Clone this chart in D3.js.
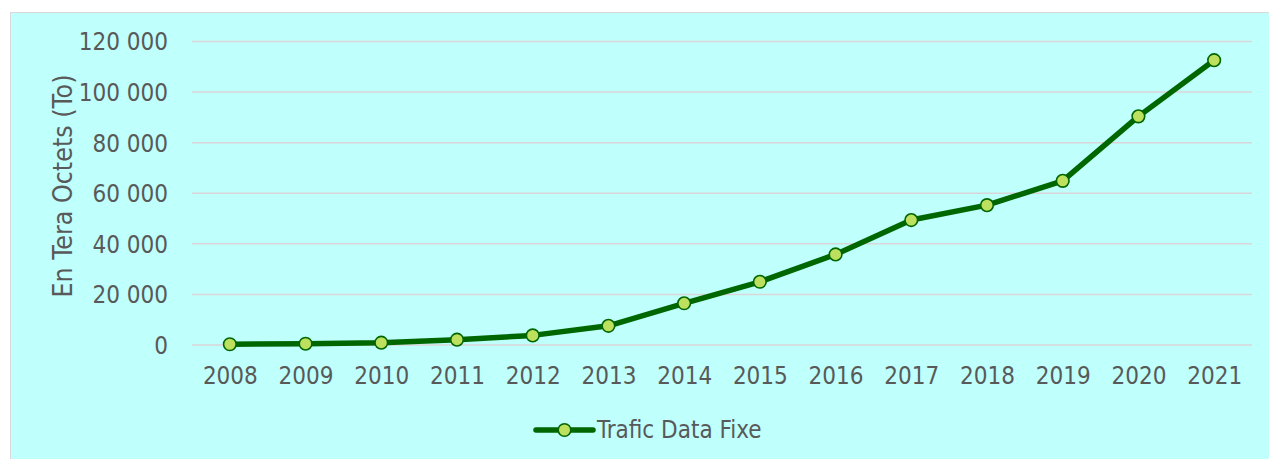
<!DOCTYPE html>
<html>
<head>
<meta charset="utf-8">
<script src="https://cdn.jsdelivr.net/npm/d3@7"></script>
<style>
  body { margin: 0; background: #fff; }
  svg text { font-family: "DejaVu Sans Condensed", "DejaVu Sans", sans-serif; font-stretch: condensed; fill: #595959; }
</style>
</head>
<body>
<svg id="chart"></svg>
<script>
// data
var years = ['2008', '2009', '2010', '2011', '2012', '2013', '2014', '2015',
  '2016', '2017', '2018', '2019', '2020', '2021'];
var trafic = [300, 500, 900, 2100, 3800, 7600, 16500, 25000,
  35800, 49400, 55300, 64900, 90400, 112600];
var yTicks = [0, 20000, 40000, 60000, 80000, 100000, 120000];
var seriesName = 'Trafic Data Fixe';

var width = 1269;
var height = 459;
var margin = { top: 41.5, right: 17, bottom: 114, left: 192 };

var svg = d3.select('#chart')
  .attr('width', width)
  .attr('height', height);

// chart area
svg.append('rect')
  .attr('x', 10.5).attr('y', 12.5)
  .attr('width', width).attr('height', height)
  .attr('fill', '#bffffc')
  .attr('stroke', '#d9d9d9')
  .attr('stroke-width', 1);

var x = d3.scalePoint()
  .domain(years)
  .range([margin.left, width - margin.right])
  .padding(0.5);

var y = d3.scaleLinear()
  .domain([0, 120000])
  .range([height - margin.bottom, margin.top]);

// space as thousands separator
var fr = d3.formatLocale({ decimal: ',', thousands: '\u00a0', grouping: [3], currency: ['', ' €'] });
var fmt = fr.format(',d');

// gridlines
svg.append('g')
  .selectAll('line')
  .data(yTicks)
  .enter()
    .append('line')
      .attr('x1', margin.left)
      .attr('x2', width - margin.right)
      .attr('y1', function (d) { return y(d); })
      .attr('y2', function (d) { return y(d); })
      .attr('stroke', '#dad5d7')
      .attr('stroke-width', 1.5);

// y axis labels
var yAxis = d3.axisLeft(y).tickValues(yTicks).tickFormat(fmt).tickSize(0).tickPadding(24);
var gy = svg.append('g')
  .attr('transform', 'translate(' + margin.left + ',0)')
  .call(yAxis);
gy.select('.domain').remove();
gy.selectAll('text')
  .attr('font-size', 24)
  .attr('dy', '0.35em')
  .style('font-family', null);

// x axis labels
var xAxis = d3.axisBottom(x).tickSize(0).tickPadding(22);
var gx = svg.append('g')
  .attr('transform', 'translate(0,' + y(0) + ')')
  .call(xAxis);
gx.select('.domain').remove();
gx.selectAll('text')
  .attr('font-size', 24)
  .style('font-family', null);

// axis title
svg.append('text')
  .attr('transform', 'translate(72,186) rotate(-90)')
  .attr('text-anchor', 'middle')
  .attr('font-size', 26.5)
  .text('En Tera Octets (To)');

// the line
var line = d3.line()
  .x(function (d, i) { return x(years[i]); })
  .y(function (d) { return y(d); });

svg.append('path')
  .datum(trafic)
  .attr('d', line)
  .attr('fill', 'none')
  .attr('stroke', '#006600')
  .attr('stroke-width', 5.5)
  .attr('stroke-linejoin', 'round')
  .attr('stroke-linecap', 'round');

svg.append('g')
  .selectAll('circle')
  .data(trafic)
  .enter()
    .append('circle')
      .attr('cx', function (d, i) { return x(years[i]); })
      .attr('cy', function (d) { return y(d); })
      .attr('r', 6.3)
      .attr('fill', '#bde05e')
      .attr('stroke', '#006600')
      .attr('stroke-width', 1.6);

// legend
var legend = svg.append('g').attr('transform', 'translate(536,430)');
legend.append('line')
  .attr('x1', 0).attr('x2', 57)
  .attr('stroke', '#006600')
  .attr('stroke-width', 5.5)
  .attr('stroke-linecap', 'round');
legend.append('circle')
  .attr('cx', 28.5).attr('r', 6.3)
  .attr('fill', '#bde05e')
  .attr('stroke', '#006600')
  .attr('stroke-width', 1.6);
legend.append('text')
  .attr('x', 61)
  .attr('dy', '0.35em')
  .attr('font-size', 24)
  .text(seriesName);
</script>
</body>
</html>
